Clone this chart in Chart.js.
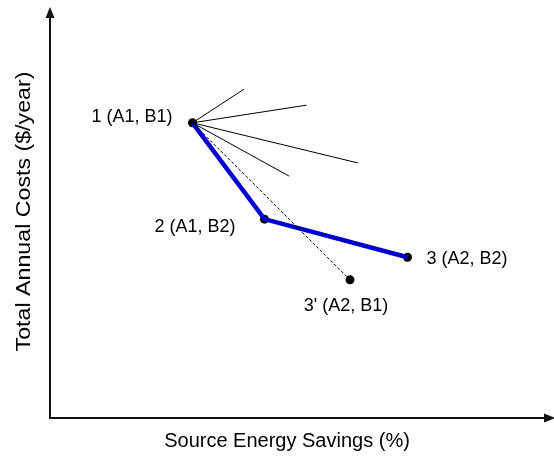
<!DOCTYPE html>
<html>
<head>
<meta charset="utf-8">
<title>Costs vs Savings</title>
<script src="https://cdn.jsdelivr.net/npm/chart.js@4.4.1/dist/chart.umd.min.js"></script>
<style>
    html, body { margin: 0; padding: 0; background: #fff; }
    #wrap { width: 554px; height: 456px; position: relative; }
</style>
</head>
<body>
<div id="wrap"><canvas id="chart"></canvas></div>
<script>
// ═══════════════════════════════════════════════════════════════
// DATA
// ═══════════════════════════════════════════════════════════════

const pointLabels = ['1 (A1, B1)', '2 (A1, B2)', '3 (A2, B2)', "3' (A2, B1)"];
const savings = [28.5, 42.9, 71.5, 60.0];   // x, % source energy savings
const costs = [72.0, 48.5, 39.2, 33.7];     // y, $/year (relative)

// thin lines fanning out from point 1
const fanSavings = [38.8, 51.3, 61.6, 47.8];
const fanCosts = [80.2, 76.3, 62.2, 59.0];

const bluePath = [0, 1, 2];   // 1 -> 2 -> 3
const dashedPath = [0, 3];    // 1 -> 3'

const xTitle = 'Source Energy Savings (%)';
const yTitle = 'Total Annual Costs ($/year)';

const FONT = "'Liberation Sans', Arial, sans-serif";

// ═══════════════════════════════════════════════════════════════
// DATASETS
// ═══════════════════════════════════════════════════════════════

const pt = i => ({ x: savings[i], y: costs[i] });

const datasets = [];

fanSavings.forEach((x, i) => {
    datasets.push({
        type: 'line',
        data: [pt(0), { x: x, y: fanCosts[i] }],
        borderColor: '#000',
        borderWidth: 1,
        pointRadius: 0
    });
});

datasets.push({
    type: 'line',
    data: dashedPath.map(pt),
    borderColor: '#000',
    borderWidth: 1,
    borderDash: [3, 2],
    pointRadius: 0
});

datasets.push({
    type: 'line',
    data: bluePath.map(pt),
    borderColor: '#0000cc',
    borderWidth: 4.5,
    pointRadius: 0
});

datasets.push({
    type: 'scatter',
    data: savings.map((_, i) => pt(i)),
    backgroundColor: '#000',
    borderColor: '#000',
    pointRadius: 4.5,
    borderWidth: 0
});

// ═══════════════════════════════════════════════════════════════
// PLUGINS
// ═══════════════════════════════════════════════════════════════

// where each point label sits relative to its point
const labelPlacement = [
    { dx: -20, dy: -6, align: 'right' },
    { dx: -29, dy: 8, align: 'right' },
    { dx: 19, dy: 2, align: 'left' },
    { dx: -4, dy: 26, align: 'center' }
];

const axesArrows = {
    id: 'axesArrows',
    afterDraw(chart) {
        const { ctx, chartArea: a } = chart;
        ctx.save();
        ctx.strokeStyle = '#111';
        ctx.fillStyle = '#111';
        ctx.lineWidth = 2;
        ctx.beginPath();
        ctx.moveTo(a.left, 16);
        ctx.lineTo(a.left, a.bottom);
        ctx.lineTo(545, a.bottom);
        ctx.stroke();
        // y arrow
        ctx.beginPath();
        ctx.moveTo(a.left, 7);
        ctx.lineTo(a.left - 4.5, 18);
        ctx.lineTo(a.left + 4.5, 18);
        ctx.closePath();
        ctx.fill();
        // x arrow
        ctx.beginPath();
        ctx.moveTo(555, a.bottom);
        ctx.lineTo(544, a.bottom - 4.5);
        ctx.lineTo(544, a.bottom + 4.5);
        ctx.closePath();
        ctx.fill();

        // axis titles
        ctx.font = `20px ${FONT}`;
        ctx.fillStyle = '#000';
        ctx.textAlign = 'center';
        ctx.textBaseline = 'middle';
        ctx.fillText(xTitle, 287, 441);

        ctx.translate(24.5, 211.5);
        ctx.rotate(-Math.PI / 2);
        ctx.scale(1.16, 1);
        ctx.fillText(yTitle, 0, 0);
        ctx.restore();
    }
};

const pointText = {
    id: 'pointText',
    afterDraw(chart) {
        const { ctx, scales: { x, y } } = chart;
        ctx.save();
        ctx.font = `18px ${FONT}`;
        ctx.fillStyle = '#000';
        ctx.textBaseline = 'middle';
        pointLabels.forEach((label, i) => {
            const p = labelPlacement[i];
            ctx.textAlign = p.align;
            ctx.fillText(label, x.getPixelForValue(savings[i]) + p.dx, y.getPixelForValue(costs[i]) + p.dy);
        });
        ctx.restore();
    }
};

// ═══════════════════════════════════════════════════════════════
// CHART
// ═══════════════════════════════════════════════════════════════

new Chart(document.getElementById('chart'), {
    type: 'scatter',
    data: { datasets },
    options: {
        responsive: true,
        maintainAspectRatio: false,
        animation: false,
        layout: {
            autoPadding: false,
            padding: { left: 50, right: 4, top: 8, bottom: 38 }
        },
        plugins: {
            legend: { display: false },
            tooltip: { enabled: false }
        },
        scales: {
            x: { type: 'linear', min: 0, max: 100, display: false },
            y: { type: 'linear', min: 0, max: 100, display: false }
        }
    },
    plugins: [axesArrows, pointText]
});
</script>
</body>
</html>
